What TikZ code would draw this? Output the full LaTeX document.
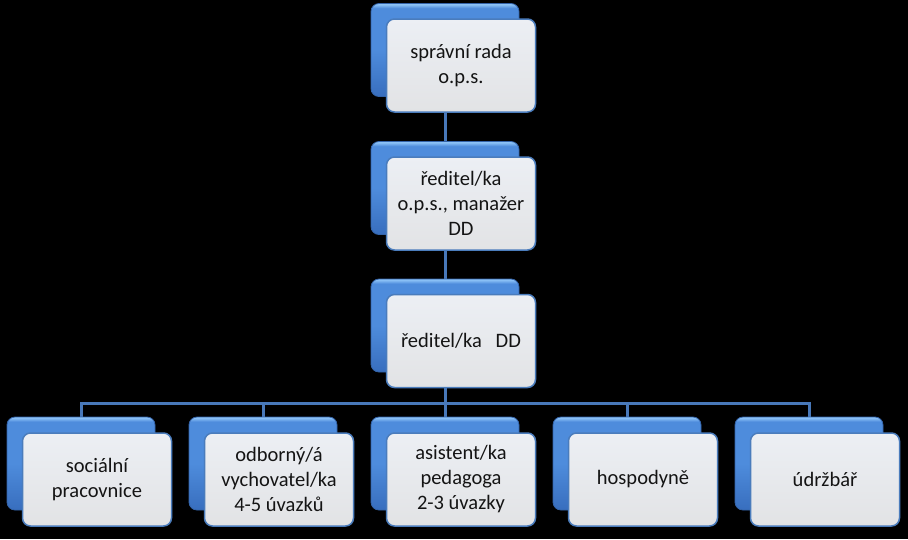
\documentclass[tikz,border=0pt]{standalone}
\usepackage{fontspec}
\setmainfont{Carlito}
\pgfdeclarelayer{canvas}
\pgfdeclarelayer{wires}
\pgfsetlayers{canvas,wires,main}
\definecolor{bluelight}{RGB}{140,194,246}
\definecolor{bluemid}{RGB}{78,140,220}
\definecolor{bluebottom}{RGB}{56,110,190}
\definecolor{blueedge}{RGB}{52,100,170}
\definecolor{frontedge}{RGB}{74,124,188}
\definecolor{fronttop}{RGB}{236,239,244}
\definecolor{frontbottom}{RGB}{226,227,229}
\definecolor{wireblue}{RGB}{72,120,185}
\pgfdeclareverticalshading{glossblue}{100bp}{color(0bp)=(bluebottom);
  color(25bp)=(bluebottom); color(50bp)=(bluemid); color(72.5bp)=(bluemid);
  color(74.5bp)=(bluelight); color(100bp)=(bluelight)}
\tikzset{
  backbox/.style={rounded corners=8pt, minimum width=148pt, minimum height=93pt,
    draw=blueedge, line width=0.8pt, shading=glossblue},
  frontbox/.style={rounded corners=8pt, minimum width=149pt, minimum height=93pt,
    draw=frontedge, line width=1.5pt, top color=fronttop, bottom color=frontbottom,
    align=center, text=black!92, font=\fontsize{20.5}{25}\selectfont},
  wire/.style={draw=wireblue, line width=3pt}
}
\begin{document}
\begin{tikzpicture}[x=1pt,y=-1pt]
      \begin{pgfonlayer}{canvas}
        \fill[black] (0,0) rectangle (908,539);
      \end{pgfonlayer}
      \useasboundingbox (0,0) rectangle (908,539);
      % blue back cards
      \path
        (445,50) node[backbox] (rada-b){}
        (445,188) node[backbox] (reditel-b){}
        (445,325.5) node[backbox] (reditelDD-b){}
        (81,463.5) node[backbox] (socialni-b){}
        (263,463.5) node[backbox] (vychovatel-b){}
        (445,463.5) node[backbox] (asistent-b){}
        (627,463.5) node[backbox] (hospodyne-b){}
        (809,463.5) node[backbox] (udrzbar-b){};
      % front cards with text
      \path
        (461,65.5) node[frontbox] (rada){správní rada\\o.p.s.}
        (461,203.5) node[frontbox] (reditel){ředitel/ka\\o.p.s., manažer\\DD}
        (461,341) node[frontbox] (reditelDD){ředitel/ka\ \ \ DD}
        (97,479.5) node[frontbox] (socialni){sociální\\pracovnice}
        (279,479.5) node[frontbox] (vychovatel){odborný/á\\vychovatel/ka\\4-5 úvazků}
        (461,479.5) node[frontbox] (asistent){asistent/ka\\pedagoga\\2-3 úvazky}
        (643,479.5) node[frontbox] (hospodyne){hospodyně}
        (825,479.5) node[frontbox] (udrzbar){údržbář};
      \coordinate (bus) at (445,403);
      \begin{pgfonlayer}{wires}
        \draw[wire] (rada-b) to (reditel-b);
        \draw[wire] (reditel-b) to (reditelDD-b);
        \draw[wire] (reditelDD-b) to (bus);
        \draw[wire] (bus) -| (socialni-b);
        \draw[wire] (bus) -| (vychovatel-b);
        \draw[wire] (bus) -| (asistent-b);
        \draw[wire] (bus) -| (hospodyne-b);
        \draw[wire] (bus) -| (udrzbar-b);
      \end{pgfonlayer}
    \end{tikzpicture}
\end{document}
